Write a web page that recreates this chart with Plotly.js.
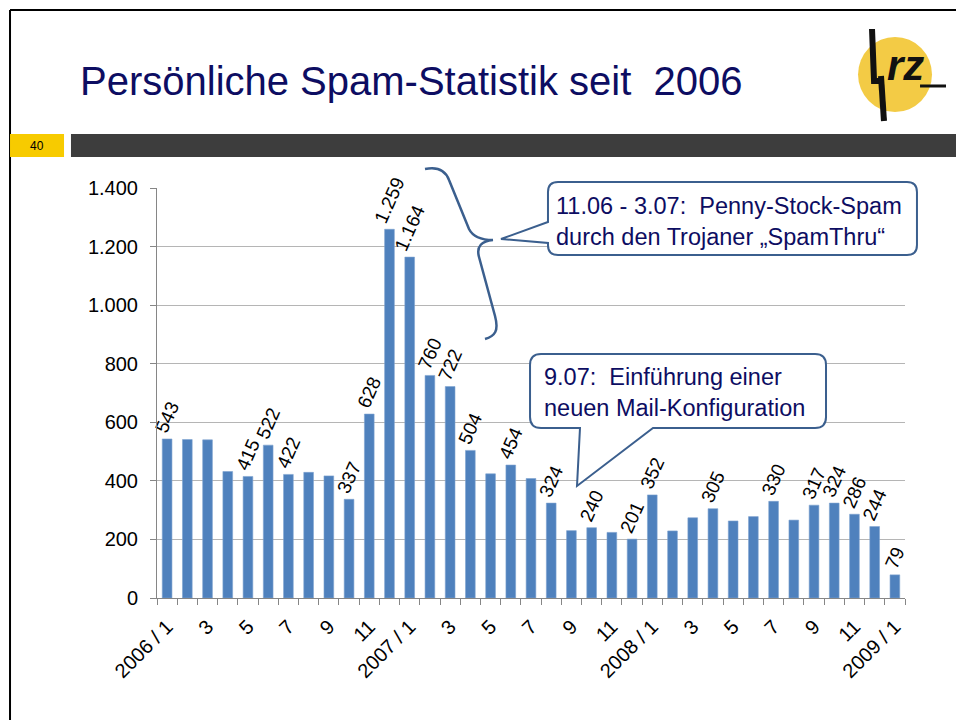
<!DOCTYPE html>
<html>
<head>
<meta charset="utf-8">
<script src="https://cdn.plot.ly/plotly-3.0.1.min.js"></script>
<style>
  html, body { margin: 0; padding: 0; background: #fff; }
  #chart { width: 956px; height: 720px; }
</style>
</head>
<body>
<div id="chart"></div>
<script>
// Monate 2006/1 .. 2009/1
const monate = [
    "2006 / 1", "2006 / 2", "2006 / 3", "2006 / 4", "2006 / 5", "2006 / 6",
    "2006 / 7", "2006 / 8", "2006 / 9", "2006 / 10", "2006 / 11", "2006 / 12",
    "2007 / 1", "2007 / 2", "2007 / 3", "2007 / 4", "2007 / 5", "2007 / 6",
    "2007 / 7", "2007 / 8", "2007 / 9", "2007 / 10", "2007 / 11", "2007 / 12",
    "2008 / 1", "2008 / 2", "2008 / 3", "2008 / 4", "2008 / 5", "2008 / 6",
    "2008 / 7", "2008 / 8", "2008 / 9", "2008 / 10", "2008 / 11", "2008 / 12",
    "2009 / 1"
];

const spamProMonat = [
    543, 541, 540, 432, 415, 522, 422, 429, 417, 337, 628, 1259,
    1164, 760, 722, 504, 424, 454, 408, 324, 230, 240, 224, 201,
    352, 229, 274, 305, 263, 278, 330, 266, 317, 324, 286, 244,
    79
];

// welche Balken eine Beschriftung tragen
const beschriftet = [
    "2006 / 1", "2006 / 5", "2006 / 6", "2006 / 7", "2006 / 10", "2006 / 11",
    "2006 / 12", "2007 / 1", "2007 / 2", "2007 / 3", "2007 / 4", "2007 / 6",
    "2007 / 8", "2007 / 10", "2007 / 12", "2008 / 1", "2008 / 4", "2008 / 7",
    "2008 / 9", "2008 / 10", "2008 / 11", "2008 / 12", "2009 / 1"
];

const tickBeschriftung = [
    "2006 / 1", "", "3", "", "5", "", "7", "", "9", "", "11", "",
    "2007 / 1", "", "3", "", "5", "", "7", "", "9", "", "11", "",
    "2008 / 1", "", "3", "", "5", "", "7", "", "9", "", "11", "",
    "2009 / 1"
];

const FONT = "Liberation Sans, Arial, sans-serif";
const NAVY = "#0d0d62";
const RAHMEN = "#3b5f8e";

// Pixel -> paper (Plotbereich 157..905 / 188..598)
const L = 157, R = 905, T = 188, B = 598;
const px = x => ((x - L) / (R - L)).toFixed(4);
const py = y => ((B - y) / (B - T)).toFixed(4);
const p = (x, y) => px(x) + "," + py(y);

function fmt(v) {
    return v >= 1000 ? Math.floor(v / 1000) + "." + String(v % 1000).padStart(3, "0") : String(v);
}

const texte = monate.map((m, i) => beschriftet.includes(m) ? fmt(spamProMonat[i]) : "");

const trace = {
    type: "bar",
    x: monate,
    y: spamProMonat,
    text: texte,
    textposition: "outside",
    textangle: -66,
    constraintext: "none",
    cliponaxis: false,
    textfont: { family: FONT, size: 19, color: "#000" },
    marker: { color: "#4f81bd", line: { color: "#7ea2d0", width: 0.6 } },
    hoverinfo: "x+y",
};

const callout1 =
    "M " + p(558, 182) + " L " + p(907, 182) + " Q " + p(917, 182) + " " + p(917, 192) +
    " L " + p(917, 245) + " Q " + p(917, 255) + " " + p(907, 255) +
    " L " + p(558, 255) + " Q " + p(548, 255) + " " + p(548, 245) +
    " L " + p(548, 243) + " L " + p(501, 239) + " L " + p(548, 222) +
    " L " + p(548, 192) + " Q " + p(548, 182) + " " + p(558, 182) + " Z";

const callout2 =
    "M " + p(541, 354) + " L " + p(815, 354) + " Q " + p(826, 354) + " " + p(826, 365) +
    " L " + p(826, 417) + " Q " + p(826, 428) + " " + p(815, 428) +
    " L " + p(653, 428) + " L " + p(577, 486) + " L " + p(580, 428) +
    " L " + p(541, 428) + " Q " + p(530, 428) + " " + p(530, 417) +
    " L " + p(530, 365) + " Q " + p(530, 354) + " " + p(541, 354) + " Z";

const klammer =
    "M " + p(425, 169) + " C " + p(440, 166) + " " + p(446, 172) + " " + p(449, 180) +
    " L " + p(469, 229) + " C " + p(473, 237) + " " + p(482, 240) + " " + p(493, 240) +
    " C " + p(482, 241) + " " + p(476, 246) + " " + p(479, 257) +
    " L " + p(495, 316) + " C " + p(499, 331) + " " + p(495, 336) + " " + p(485, 339);

const shapes = [
    // Folienrahmen
    { type: "line", xref: "paper", yref: "paper", x0: px(10), x1: px(956), y0: py(10), y1: py(10), line: { color: "#000", width: 2 } },
    { type: "line", xref: "paper", yref: "paper", x0: px(10), x1: px(10), y0: py(10), y1: py(720), line: { color: "#000", width: 2 } },
    // Seitenleiste
    { type: "rect", xref: "paper", yref: "paper", x0: px(10), x1: px(64), y0: py(134), y1: py(157), fillcolor: "#f7cb00", line: { width: 0 } },
    { type: "rect", xref: "paper", yref: "paper", x0: px(71), x1: px(956), y0: py(134), y1: py(157), fillcolor: "#3d3d3d", line: { width: 0 } },
    // Logo
    { type: "circle", xref: "paper", yref: "paper", x0: px(858), x1: px(932), y0: py(37), y1: py(112), fillcolor: "#f3cb45", line: { width: 0 } },
    { type: "path", xref: "paper", yref: "paper", path: "M " + p(872, 29) + " L " + p(874, 81) + " L " + p(881, 81), line: { color: "#111", width: 6 } },
    { type: "path", xref: "paper", yref: "paper", path: "M " + p(881, 76) + " L " + p(884, 121), line: { color: "#111", width: 6 } },
    { type: "line", xref: "paper", yref: "paper", x0: px(920), x1: px(946), y0: py(86), y1: py(86), line: { color: "#111", width: 3 } },
    // Hinweise
    { type: "path", xref: "paper", yref: "paper", path: klammer, line: { color: RAHMEN, width: 2.5 } },
    { type: "path", xref: "paper", yref: "paper", path: callout1, fillcolor: "#fff", line: { color: RAHMEN, width: 2 } },
    { type: "path", xref: "paper", yref: "paper", path: callout2, fillcolor: "#fff", line: { color: RAHMEN, width: 2 } },
];

const annotations = [
    {
        xref: "paper", yref: "paper", x: px(78), y: py(81), xanchor: "left", yanchor: "middle",
        text: "Persönliche Spam-Statistik seit\u00A0 2006", showarrow: false,
        font: { family: FONT, size: 40, color: NAVY },
    },
    {
        xref: "paper", yref: "paper", x: px(37), y: py(146), xanchor: "center", yanchor: "middle",
        text: "40", showarrow: false, font: { family: FONT, size: 12, color: "#000" },
    },
    {
        xref: "paper", yref: "paper", x: px(905), y: py(66), xanchor: "center", yanchor: "middle",
        text: "<b><i>rz</i></b>", showarrow: false, font: { family: FONT, size: 42, color: "#111" },
    },
    {
        xref: "paper", yref: "paper", x: px(554), y: py(221), xanchor: "left", yanchor: "middle", align: "left",
        text: "11.06 - 3.07:\u00A0 Penny-Stock-Spam<br>durch den Trojaner „SpamThru“", showarrow: false,
        font: { family: FONT, size: 23.5, color: NAVY },
    },
    {
        xref: "paper", yref: "paper", x: px(542), y: py(392), xanchor: "left", yanchor: "middle", align: "left",
        text: "9.07:\u00A0 Einführung einer<br>neuen Mail-Konfiguration", showarrow: false,
        font: { family: FONT, size: 23.5, color: NAVY },
    },
];

const layout = {
    width: 956,
    height: 720,
    margin: { l: L, r: 956 - R, t: T, b: 720 - B, pad: 0 },
    paper_bgcolor: "#fff",
    plot_bgcolor: "#fff",
    font: { family: FONT, color: "#000" },
    separators: ",.",
    showlegend: false,
    bargap: 0.52,
    xaxis: {
        type: "category",
        tickvals: monate,
        ticktext: tickBeschriftung,
        tickson: "boundaries",
        ticks: "outside",
        ticklen: 6,
        tickcolor: "#868686",
        tickangle: -45,
        ticklabelstandoff: 8,
        tickfont: { family: FONT, size: 20, color: "#000" },
        showline: true,
        linecolor: "#868686",
        showgrid: false,
        zeroline: false,
    },
    yaxis: {
        range: [0, 1400],
        dtick: 200,
        separatethousands: true,
        ticks: "outside",
        ticklen: 6,
        tickcolor: "#868686",
        ticklabelstandoff: 8,
        tickfont: { family: FONT, size: 20, color: "#000" },
        showline: true,
        linecolor: "#868686",
        gridcolor: "#b5b5b5",
        zeroline: false,
    },
    shapes: shapes,
    annotations: annotations,
};

Plotly.newPlot("chart", [trace], layout, { displayModeBar: false, staticPlot: true });
</script>
</body>
</html>
